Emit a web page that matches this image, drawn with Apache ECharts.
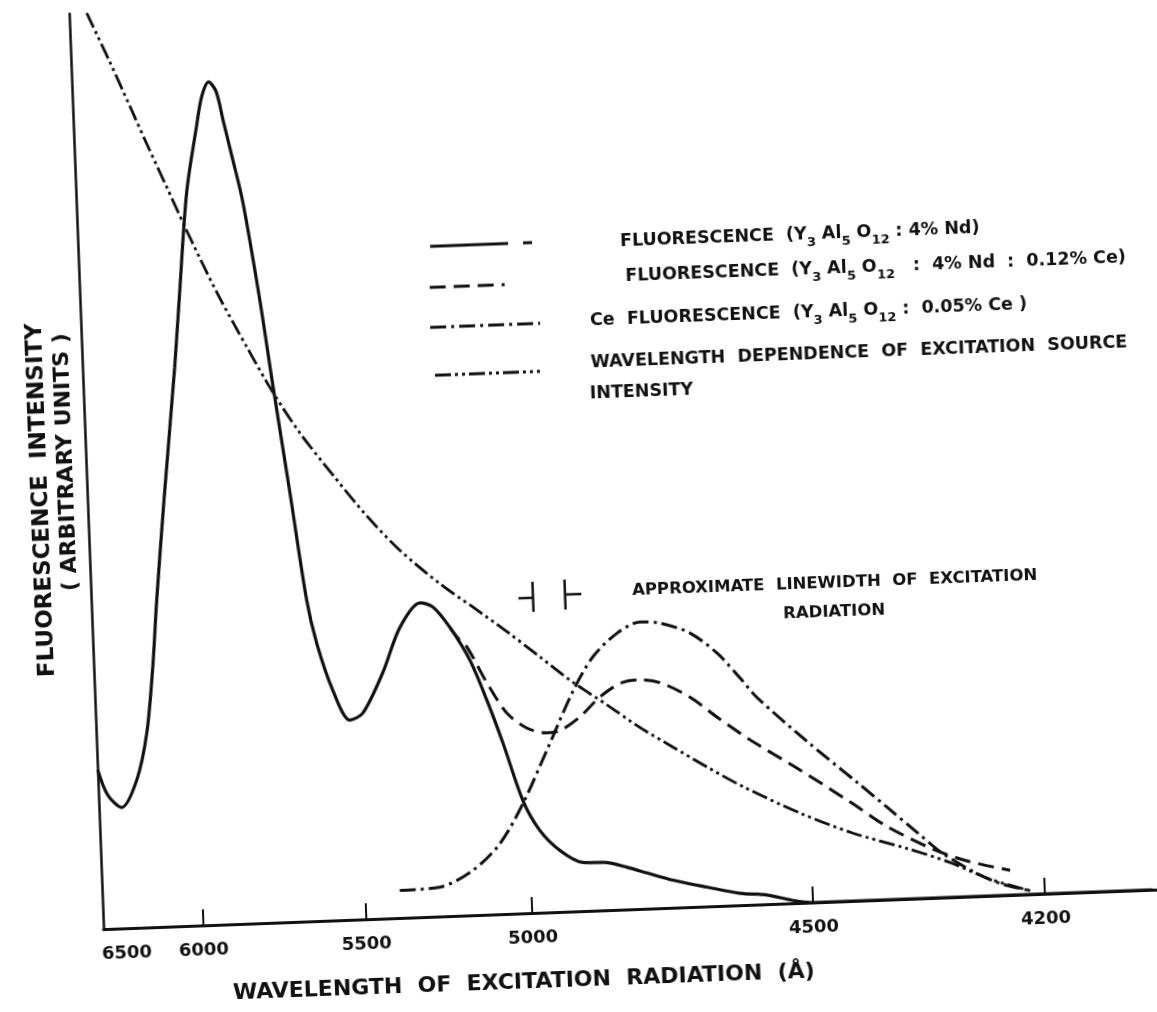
<!DOCTYPE html>
<html>
<head>
<meta charset="utf-8">
<script src="https://cdn.jsdelivr.net/npm/echarts/dist/echarts.min.js"></script>
<style>
  html, body { margin: 0; padding: 0; background: #fff; overflow: hidden; width: 1157px; height: 1012px; }
  /* the scanned figure is tilted by about two degrees */
  #chart { position: absolute; left: -20px; top: -20px; width: 1197px; height: 1052px;
           transform: rotate(-2.15deg); transform-origin: 598.5px 526px; }
</style>
</head>
<body>
<div id="chart"></div>
<script>
// ---- hand-drawn wavelength scale: labelled wavelengths and where they sit on the axis (0..1000) ----
const tickWavelengths = [6500, 6000, 5500, 5000, 4500, 4200];
const tickLabels      = ['6500', '6000', '5500', '5000', '4500', '4200'];
const tickStops       = [21.3, 94.2, 248.4, 405.8, 671.7, 891.4];

// ---- Nd fluorescence (Y3Al5O12 : 4% Nd) — solid ----
const ndWavelength = [6645, 6586, 6499, 6395, 6318, 6263, 6221, 6150, 6048, 5999, 5966, 5928, 5909, 5886, 5864, 5845, 5823, 5795, 5754, 5725, 5684, 5645, 5619, 5575, 5526, 5486, 5422, 5365, 5302, 5264, 5215, 5158, 5112, 5068, 5015, 4981, 4946, 4906, 4864, 4828, 4793, 4747, 4687, 4629, 4581, 4535, 4500, 4200, 4061];
const ndIntensity  = [17.4, 14.6, 13.2, 16.1, 21.2, 28.4, 35.7, 46.5, 61.0, 69.1, 80.0, 87.2, 90.4, 92.0, 90.9, 87.6, 83.8, 78.8, 68.0, 59.0, 46.9, 35.1, 30.3, 25.1, 21.8, 22.5, 26.8, 31.7, 34.3, 33.8, 31.5, 27.8, 23.4, 18.6, 12.3, 9.0, 6.7, 5.3, 5.2, 4.6, 3.9, 3.0, 2.1, 1.3, 1.0, 0.3, 0, 0, 0];

// ---- Nd fluorescence (Y3Al5O12 : 4% Nd : 0.12% Ce) — dashed ----
const ndCeWavelength = [5215, 5192, 5166, 5110, 5053, 4997, 4962, 4938, 4902, 4865, 4828, 4793, 4757, 4705, 4658, 4601, 4514, 4447, 4401, 4342, 4299, 4244];
const ndCeIntensity  = [31.5, 30.3, 29.3, 25.3, 21.9, 20.2, 19.6, 19.8, 21.2, 23.3, 24.7, 25.0, 24.6, 22.9, 20.6, 18.0, 14.5, 10.8, 8.0, 5.3, 3.9, 2.7];

// ---- Ce fluorescence (Y3Al5O12 : 0.05% Ce) — dash-dot ----
const ceWavelength = [5395, 5274, 5173, 5089, 5015, 4963, 4912, 4875, 4830, 4789, 4753, 4701, 4654, 4615, 4586, 4500, 4437, 4400, 4362, 4330, 4287, 4257, 4219];
const ceIntensity  = [3.0, 3.2, 4.9, 7.7, 12.0, 17.7, 24.1, 27.7, 30.2, 31.3, 31.1, 29.9, 27.6, 24.8, 22.6, 17.6, 12.9, 10.1, 7.2, 4.8, 2.5, 1.3, 0.4];

// ---- wavelength dependence of excitation source intensity — dash-dot-dot ----
const srcWavelength = [6532, 6395, 6276, 6175, 6056, 5979, 5933, 5877, 5799, 5725, 5646, 5550, 5452, 5356, 5240, 5143, 5044, 4969, 4912, 4853, 4796, 4738, 4679, 4616, 4517, 4445, 4376, 4321, 4270, 4219];
const srcIntensity  = [100.0, 94.6, 89.7, 85.5, 80.7, 76.6, 72.8, 68.4, 62.9, 57.9, 53.3, 48.6, 44.0, 40.1, 36.3, 33.6, 30.8, 27.9, 25.0, 22.4, 19.8, 17.5, 15.2, 12.9, 9.8, 7.4, 5.5, 3.8, 1.8, 0.4];

const seriesNames = [
  'Nd fluorescence (Y3Al5O12 : 4% Nd)',
  'Nd fluorescence (Y3Al5O12 : 4% Nd : 0.12% Ce)',
  'Ce fluorescence (Y3Al5O12 : 0.05% Ce)',
  'Wavelength dependence of excitation source intensity'
];

// piecewise-linear hand-drawn wavelength scale
function toAxis(w) {
  const n = tickWavelengths.length;
  let i;
  if (w >= tickWavelengths[0]) i = 0;
  else if (w <= tickWavelengths[n - 1]) i = n - 2;
  else { for (i = 0; i < n - 1; i++) if (w <= tickWavelengths[i] && w >= tickWavelengths[i + 1]) break; }
  const w0 = tickWavelengths[i], w1 = tickWavelengths[i + 1];
  const p0 = tickStops[i], p1 = tickStops[i + 1];
  return p0 + (w - w0) * (p1 - p0) / (w1 - w0);
}
function pairs(ws, vs) { return ws.map((w, i) => [toAxis(w), vs[i]]); }

const INK = '#111';
const FONT = 'DejaVu Sans';
const DASH = [16, 8];
const DASHDOT = [16, 5, 3, 5];
const DASHDOTDOT = [16, 4, 3, 4, 3, 4];

const sub = { fontSize: 13, fontWeight: 'bold', fontFamily: FONT, fill: INK, verticalAlign: 'bottom', lineHeight: 13 };
function legendText(x, y, text, size) {
  return { type: 'text', x: x, y: y, silent: true,
    style: { text: text, fill: INK, fontSize: size || 17.5, fontWeight: 'bold', fontFamily: FONT,
             lineHeight: 30, align: 'left', verticalAlign: 'middle', rich: { s: sub } } };
}
function sample(x1, x2, y, dash) {
  return { type: 'line', silent: true, shape: { x1: x1, y1: y, x2: x2, y2: y },
    style: { stroke: INK, lineWidth: 3, lineDash: dash || null } };
}
function seg(x1, y1, x2, y2) {
  return { type: 'line', silent: true, shape: { x1: x1, y1: y1, x2: x2, y2: y2 },
    style: { stroke: INK, lineWidth: 2.5 } };
}

const chart = echarts.init(document.getElementById('chart'), null, { renderer: 'canvas' });
chart.setOption({
  backgroundColor: '#fff',
  animation: false,
  grid: { left: 108, top: 15, right: 32, bottom: 121 },
  xAxis: {
    type: 'value', min: 0, max: 1000,
    axisLine: { lineStyle: { color: INK, width: 3 } },
    axisTick: { show: true, inside: true, length: 16, customValues: tickStops.slice(1),
                lineStyle: { color: INK, width: 2 } },
    axisLabel: {
      customValues: tickStops, margin: 16,
      fontSize: 18, fontWeight: 'bold', fontFamily: FONT, color: INK,
      formatter: function (v) {
        let best = 0;
        for (let i = 1; i < tickStops.length; i++) if (Math.abs(tickStops[i] - v) < Math.abs(tickStops[best] - v)) best = i;
        return tickLabels[best];
      }
    },
    splitLine: { show: false }
  },
  yAxis: {
    type: 'value', min: 0, max: 100,
    axisLine: { show: true, lineStyle: { color: INK, width: 2.5 } },
    axisTick: { show: false }, axisLabel: { show: false }, splitLine: { show: false }
  },
  series: [
    { name: seriesNames[0], type: 'line', data: pairs(ndWavelength, ndIntensity), smooth: 0.3,
      showSymbol: false, lineStyle: { color: INK, width: 3.2, type: 'solid' } },
    { name: seriesNames[1], type: 'line', data: pairs(ndCeWavelength, ndCeIntensity), smooth: 0.3,
      showSymbol: false, lineStyle: { color: INK, width: 3, type: DASH } },
    { name: seriesNames[2], type: 'line', data: pairs(ceWavelength, ceIntensity), smooth: 0.3,
      showSymbol: false, lineStyle: { color: INK, width: 3, type: DASHDOT } },
    { name: seriesNames[3], type: 'line', data: pairs(srcWavelength, srcIntensity), smooth: 0.3,
      showSymbol: false, lineStyle: { color: INK, width: 2.8, type: DASHDOTDOT } }
  ],
  graphic: [
    // legend
    sample(460, 538, 261), sample(553, 562, 261),
    legendText(650, 263, 'FLUORESCENCE  (Y{s|3} Al{s|5} O{s|12} : 4% Nd)'),
    sample(458, 533, 302, DASH),
    legendText(654, 298, 'FLUORESCENCE  (Y{s|3} Al{s|5} O{s|12}   :  4% Nd  :  0.12% Ce)'),
    sample(457, 567, 342, DASHDOT),
    legendText(617, 341, 'Ce  FLUORESCENCE  (Y{s|3} Al{s|5} O{s|12} :  0.05% Ce )'),
    sample(460, 565, 390, DASHDOTDOT),
    legendText(616, 383, 'WAVELENGTH  DEPENDENCE  OF  EXCITATION  SOURCE'),
    legendText(614, 414, 'INTENSITY'),
    // approximate linewidth marker
    seg(549.6, 600, 549.6, 630), seg(535, 616, 549.6, 616),
    seg(581.7, 599, 581.7, 629), seg(581.7, 614, 598, 614),
    { type: 'text', x: 649, y: 613, silent: true,
      style: { text: 'APPROXIMATE  LINEWIDTH  OF  EXCITATION', fill: INK, fontSize: 16.5, fontWeight: 'bold',
               fontFamily: FONT, align: 'left', verticalAlign: 'middle' } },
    { type: 'text', x: 799, y: 642, silent: true,
      style: { text: 'RADIATION', fill: INK, fontSize: 16.5, fontWeight: 'bold',
               fontFamily: FONT, align: 'left', verticalAlign: 'middle' } },
    // axis titles
    { type: 'text', x: 526, y: 1000, silent: true,
      style: { text: 'WAVELENGTH  OF  EXCITATION  RADIATION  (Å)', fill: INK, fontSize: 22, fontWeight: 'bold',
               fontFamily: FONT, align: 'center', verticalAlign: 'middle' } },
    { type: 'text', x: 62, y: 500, rotation: Math.PI / 2, silent: true,
      style: { text: 'FLUORESCENCE  INTENSITY', fill: INK, fontSize: 23, fontWeight: 'bold',
               fontFamily: FONT, align: 'center', verticalAlign: 'middle' } },
    { type: 'text', x: 88, y: 463, rotation: Math.PI / 2, silent: true,
      style: { text: '( ARBITRARY UNITS )', fill: INK, fontSize: 22, fontWeight: 'bold',
               fontFamily: FONT, align: 'center', verticalAlign: 'middle' } }
  ]
});
</script>
</body>
</html>
